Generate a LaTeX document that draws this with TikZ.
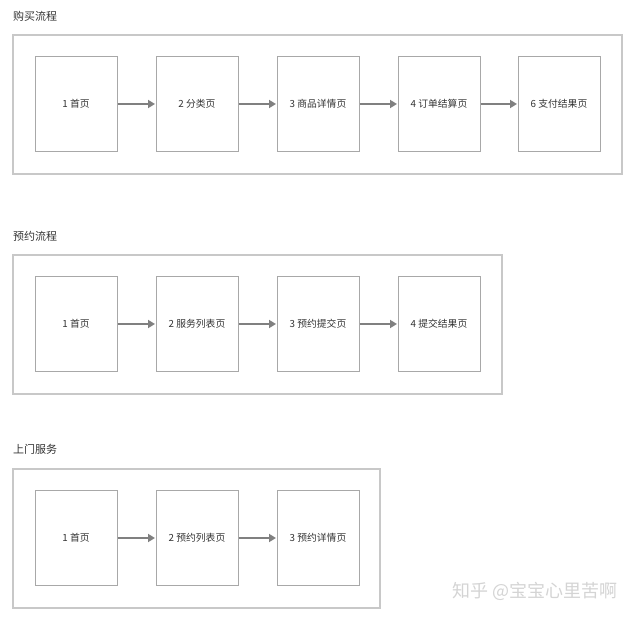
\documentclass[tikz,border=0pt]{standalone}
\usepackage{fontspec}
\setmainfont{Noto Sans CJK SC}
\usetikzlibrary{arrows.meta}
\definecolor{outerc}{HTML}{C8C8C8}
\definecolor{boxc}{HTML}{A8A8A8}
\definecolor{arrc}{HTML}{808080}
\definecolor{txtc}{HTML}{333333}
\definecolor{wmc}{HTML}{D4D4D4}
\tikzset{
  pagebox/.style={draw=boxc, line width=1pt, minimum width=82pt, minimum height=95pt, inner sep=0pt, font=\fontsize{9.8}{11}\selectfont, text=txtc},
  groupbox/.style={draw=outerc, line width=1.2pt},
  flow/.style={draw=arrc, line width=1.8pt, -{Triangle[length=7pt,width=8pt]}, shorten >=0.5pt},
  grouptitle/.style={anchor=west, font=\fontsize{11}{12}\selectfont, text=txtc, inner sep=0pt},
}
\begin{document}
\begin{tikzpicture}[x=1pt,y=-1pt]
\useasboundingbox (0,0) rectangle (638,617);
% group 1
\node[grouptitle] (t1) at (13,16) {购买流程};
\draw[groupbox] (13,35) rectangle (622,174);
\node[pagebox] (a1) at (76,104) {1 首页};
\node[pagebox] (a2) at (197,104) {2 分类页};
\node[pagebox] (a3) at (318,104) {3 商品详情页};
\node[pagebox] (a4) at (439,104) {4 订单结算页};
\node[pagebox] (a5) at (559,104) {6 支付结果页};
\draw[flow] (a1) -- (a2);
\draw[flow] (a2) -- (a3);
\draw[flow] (a3) -- (a4);
\draw[flow] (a4) -- (a5);
% group 2
\node[grouptitle] (t2) at (13,236) {预约流程};
\draw[groupbox] (13,255) rectangle (502,394);
\node[pagebox] (b1) at (76,324) {1 首页};
\node[pagebox] (b2) at (197,324) {2 服务列表页};
\node[pagebox] (b3) at (318,324) {3 预约提交页};
\node[pagebox] (b4) at (439,324) {4 提交结果页};
\draw[flow] (b1) -- (b2);
\draw[flow] (b2) -- (b3);
\draw[flow] (b3) -- (b4);
% group 3
\node[grouptitle] (t3) at (13,449) {上门服务};
\draw[groupbox] (13,469) rectangle (380,608);
\node[pagebox] (c1) at (76,538) {1 首页};
\node[pagebox] (c2) at (197,538) {2 预约列表页};
\node[pagebox] (c3) at (318,538) {3 预约详情页};
\draw[flow] (c1) -- (c2);
\draw[flow] (c2) -- (c3);
% watermark
\node[anchor=west, inner sep=0pt, font=\fontsize{18}{19}\selectfont, text=wmc] (wm) at (452,591) {知乎 @宝宝心里苦啊};
\end{tikzpicture}
\end{document}
